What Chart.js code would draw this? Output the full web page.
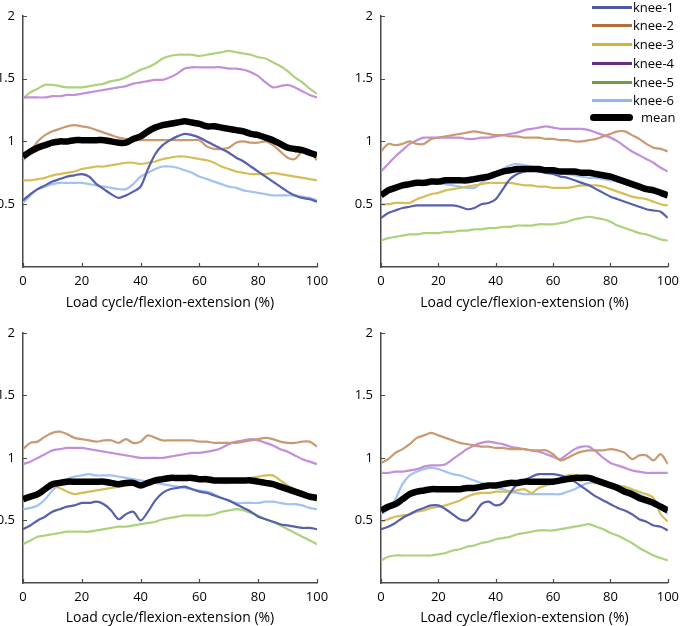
<!DOCTYPE html>
<html lang="en">
<head>
<meta charset="UTF-8">
<title>Knee curves</title>
<script src="https://cdn.jsdelivr.net/npm/chart.js"></script>
<style>
  body { margin: 0; background: #fff; width: 685px; height: 626px; position: relative; overflow: hidden; font-family: "Open Sans", sans-serif; }
  canvas { position: absolute; }
  #legenda { position: absolute; left: 592px; top: 0; font-size: 13px; color: #000; }
  .linha { position: absolute; left: 0; height: 18px; display: flex; align-items: center; white-space: nowrap; }
  .traco { display: inline-block; width: 40px; height: 3px; margin-right: 1px; }
</style>
</head>
<body>

<canvas id="tl" width="340" height="311" style="left:0;top:0"></canvas>
<canvas id="tr" width="340" height="311" style="left:345px;top:0"></canvas>
<canvas id="bl" width="340" height="309" style="left:0;top:317px"></canvas>
<canvas id="br" width="340" height="309" style="left:345px;top:317px"></canvas>
<div id="legenda"></div>

<script>
// load cycle positions (%)
const pct = [0, 2.5, 5, 7.5, 10, 12.5, 15, 17.5, 20, 22.5, 25, 27.5, 30, 32.5, 35, 37.5, 40, 42.5, 45, 47.5, 50,
    52.5, 55, 57.5, 60, 62.5, 65, 67.5, 70, 72.5, 75, 77.5, 80, 82.5, 85, 87.5, 90, 92.5, 95, 97.5, 100];

const nomes = ["knee-1", "knee-2", "knee-3", "knee-4", "knee-5", "knee-6", "mean"];
const coresLinha = ["#5660ad", "#c99a72", "#d6bd58", "#c28fd9", "#abd27c", "#a2c2ef", "#000000"];
const coresLegenda = ["#4e5aa8", "#b3703c", "#d4b334", "#6a2d84", "#6e9d3f", "#93b4ec", "#000000"];
const xTicks = [0, 20, 40, 60, 80, 100];
const yTicks = [0.5, 1, 1.5, 2];

// top left
const tlKnee1 = [0.53,0.58,0.62,0.65,0.68,0.70,0.72,0.73,0.74,0.72,0.66,0.62,0.58,0.55,0.57,0.60,0.64,0.78,0.90,0.97,1.01,1.04,1.06,1.05,1.03,1.00,0.97,0.94,0.91,0.87,0.84,0.80,0.76,0.72,0.68,0.64,0.60,0.57,0.55,0.54,0.52];
const tlKnee2 = [0.85,0.92,1.00,1.05,1.08,1.10,1.12,1.13,1.12,1.11,1.09,1.07,1.05,1.03,1.02,1.01,1.01,1.01,1.01,1.01,1.01,1.01,1.01,1.01,1.01,0.96,0.94,0.94,0.95,0.99,1.00,0.99,0.99,1.00,0.97,0.92,0.87,0.86,0.92,0.92,0.85];
const tlKnee3 = [0.69,0.69,0.70,0.71,0.73,0.74,0.75,0.76,0.78,0.79,0.80,0.80,0.81,0.82,0.83,0.83,0.82,0.83,0.84,0.86,0.87,0.88,0.88,0.87,0.86,0.85,0.83,0.80,0.78,0.76,0.75,0.74,0.74,0.74,0.75,0.74,0.73,0.72,0.71,0.70,0.69];
const tlKnee4 = [1.35,1.35,1.35,1.35,1.36,1.36,1.37,1.37,1.38,1.39,1.40,1.41,1.42,1.43,1.44,1.46,1.47,1.48,1.49,1.49,1.51,1.54,1.58,1.59,1.59,1.59,1.59,1.59,1.58,1.58,1.57,1.55,1.52,1.47,1.43,1.44,1.45,1.43,1.40,1.37,1.35];
const tlKnee5 = [1.34,1.39,1.42,1.45,1.45,1.44,1.43,1.43,1.43,1.44,1.45,1.46,1.48,1.49,1.51,1.54,1.57,1.59,1.62,1.66,1.68,1.69,1.69,1.69,1.68,1.69,1.70,1.71,1.72,1.71,1.70,1.69,1.67,1.66,1.63,1.60,1.56,1.51,1.47,1.42,1.38];
const tlKnee6 = [0.51,0.57,0.62,0.64,0.66,0.67,0.67,0.67,0.67,0.66,0.65,0.64,0.63,0.62,0.62,0.66,0.72,0.75,0.78,0.80,0.80,0.79,0.77,0.75,0.72,0.70,0.68,0.66,0.64,0.63,0.61,0.60,0.59,0.58,0.57,0.57,0.57,0.57,0.56,0.55,0.53];
const tlMean  = [0.88,0.92,0.95,0.97,0.99,1.00,1.00,1.01,1.01,1.01,1.01,1.01,1.00,0.99,0.99,1.02,1.04,1.08,1.11,1.13,1.14,1.15,1.16,1.15,1.14,1.12,1.12,1.11,1.10,1.09,1.08,1.06,1.05,1.03,1.01,0.98,0.95,0.94,0.93,0.91,0.89];

// top right
const trKnee1 = [0.39,0.43,0.45,0.47,0.48,0.49,0.49,0.49,0.49,0.49,0.49,0.48,0.46,0.47,0.50,0.51,0.54,0.62,0.70,0.74,0.76,0.77,0.76,0.75,0.74,0.72,0.71,0.69,0.67,0.65,0.62,0.59,0.56,0.54,0.52,0.50,0.48,0.46,0.45,0.44,0.39];
const trKnee2 = [0.92,0.98,0.97,0.98,1.00,0.98,0.98,1.02,1.03,1.04,1.05,1.06,1.07,1.08,1.07,1.06,1.05,1.05,1.04,1.04,1.03,1.03,1.03,1.02,1.02,1.01,1.01,1.00,1.00,1.01,1.02,1.04,1.06,1.08,1.08,1.05,1.02,0.98,0.95,0.94,0.92];
const trKnee3 = [0.50,0.50,0.51,0.51,0.51,0.54,0.56,0.58,0.59,0.61,0.62,0.63,0.64,0.65,0.66,0.67,0.67,0.67,0.67,0.66,0.65,0.65,0.64,0.64,0.63,0.63,0.63,0.64,0.65,0.65,0.65,0.64,0.62,0.60,0.58,0.56,0.55,0.54,0.52,0.50,0.49];
const trKnee4 = [0.76,0.82,0.88,0.93,0.98,1.01,1.03,1.03,1.03,1.03,1.03,1.03,1.02,1.02,1.03,1.03,1.04,1.05,1.06,1.07,1.09,1.10,1.11,1.12,1.11,1.10,1.10,1.10,1.10,1.09,1.07,1.05,1.03,1.00,0.96,0.92,0.89,0.86,0.83,0.79,0.76];
const trKnee5 = [0.21,0.23,0.24,0.25,0.26,0.26,0.27,0.27,0.27,0.28,0.28,0.29,0.29,0.30,0.30,0.31,0.31,0.32,0.32,0.33,0.33,0.33,0.34,0.34,0.34,0.35,0.36,0.38,0.39,0.40,0.39,0.38,0.36,0.33,0.31,0.29,0.27,0.26,0.24,0.22,0.21];
const trKnee6 = [0.59,0.62,0.64,0.66,0.67,0.68,0.68,0.68,0.67,0.66,0.65,0.64,0.63,0.63,0.67,0.71,0.75,0.78,0.81,0.82,0.81,0.80,0.79,0.77,0.76,0.75,0.74,0.73,0.72,0.71,0.71,0.70,0.69,0.68,0.67,0.66,0.65,0.64,0.63,0.61,0.59];
const trMean  = [0.57,0.61,0.63,0.65,0.66,0.67,0.67,0.68,0.68,0.69,0.69,0.69,0.69,0.70,0.71,0.72,0.74,0.76,0.77,0.78,0.78,0.78,0.78,0.77,0.77,0.76,0.76,0.76,0.75,0.75,0.74,0.73,0.72,0.70,0.68,0.66,0.64,0.62,0.61,0.59,0.57];

// bottom left
const blKnee1 = [0.43,0.46,0.50,0.53,0.57,0.59,0.61,0.62,0.64,0.64,0.65,0.63,0.58,0.51,0.55,0.57,0.50,0.57,0.66,0.72,0.75,0.76,0.77,0.75,0.73,0.72,0.70,0.68,0.66,0.63,0.60,0.57,0.53,0.51,0.49,0.47,0.46,0.45,0.44,0.44,0.43];
const blKnee2 = [1.07,1.12,1.13,1.17,1.20,1.21,1.19,1.16,1.15,1.14,1.13,1.14,1.14,1.12,1.15,1.12,1.13,1.18,1.16,1.14,1.14,1.14,1.14,1.14,1.13,1.13,1.12,1.12,1.12,1.12,1.13,1.14,1.15,1.16,1.15,1.13,1.12,1.12,1.13,1.13,1.09];
const blKnee3 = [0.66,0.68,0.70,0.74,0.77,0.76,0.73,0.71,0.72,0.73,0.74,0.75,0.76,0.77,0.78,0.79,0.80,0.81,0.82,0.83,0.83,0.83,0.83,0.83,0.82,0.81,0.81,0.80,0.80,0.81,0.82,0.84,0.85,0.86,0.86,0.82,0.78,0.75,0.72,0.69,0.66];
const blKnee4 = [0.95,0.97,1.00,1.03,1.06,1.07,1.08,1.08,1.08,1.07,1.06,1.05,1.04,1.03,1.02,1.01,1.00,1.00,1.00,1.00,1.01,1.02,1.03,1.04,1.04,1.05,1.06,1.08,1.11,1.13,1.14,1.15,1.14,1.12,1.10,1.07,1.05,1.02,0.99,0.97,0.95];
const blKnee5 = [0.31,0.34,0.37,0.38,0.39,0.40,0.41,0.41,0.41,0.41,0.42,0.43,0.44,0.45,0.45,0.46,0.47,0.48,0.49,0.51,0.52,0.53,0.54,0.54,0.54,0.54,0.55,0.57,0.58,0.59,0.58,0.56,0.54,0.51,0.49,0.46,0.43,0.40,0.37,0.34,0.31];
const blKnee6 = [0.59,0.60,0.62,0.67,0.74,0.79,0.83,0.85,0.86,0.87,0.86,0.86,0.86,0.85,0.84,0.83,0.82,0.81,0.80,0.79,0.78,0.77,0.76,0.75,0.74,0.73,0.71,0.68,0.66,0.64,0.64,0.64,0.64,0.65,0.65,0.64,0.63,0.63,0.62,0.60,0.59];
const blMean  = [0.67,0.69,0.71,0.75,0.79,0.80,0.81,0.81,0.81,0.81,0.81,0.81,0.80,0.79,0.80,0.80,0.78,0.80,0.82,0.83,0.84,0.84,0.84,0.84,0.83,0.83,0.82,0.82,0.82,0.82,0.82,0.82,0.81,0.80,0.79,0.77,0.75,0.73,0.71,0.69,0.68];

// bottom right
const brKnee1 = [0.43,0.45,0.48,0.52,0.55,0.58,0.60,0.62,0.62,0.59,0.55,0.51,0.50,0.55,0.63,0.65,0.62,0.64,0.72,0.79,0.82,0.85,0.87,0.87,0.87,0.86,0.84,0.81,0.77,0.73,0.69,0.66,0.63,0.60,0.58,0.55,0.51,0.49,0.46,0.45,0.42];
const brKnee2 = [0.96,0.99,1.04,1.07,1.11,1.16,1.18,1.20,1.18,1.16,1.14,1.12,1.11,1.10,1.09,1.09,1.08,1.08,1.07,1.07,1.07,1.06,1.06,1.06,1.03,0.98,1.00,1.03,1.05,1.06,1.06,1.06,1.07,1.06,1.04,0.99,1.02,1.02,0.98,1.03,0.95];
const brKnee3 = [0.49,0.51,0.53,0.54,0.55,0.57,0.58,0.60,0.61,0.62,0.64,0.66,0.69,0.71,0.72,0.72,0.73,0.73,0.73,0.74,0.75,0.72,0.76,0.78,0.80,0.83,0.86,0.86,0.86,0.84,0.82,0.80,0.79,0.78,0.77,0.75,0.73,0.71,0.68,0.55,0.49];
const brKnee4 = [0.88,0.88,0.89,0.89,0.90,0.91,0.93,0.94,0.94,0.95,0.99,1.03,1.07,1.10,1.12,1.13,1.12,1.11,1.09,1.08,1.07,1.06,1.05,1.03,1.01,0.99,1.03,1.07,1.09,1.09,1.05,1.00,0.96,0.94,0.92,0.90,0.89,0.88,0.88,0.88,0.88];
const brKnee5 = [0.18,0.21,0.22,0.22,0.22,0.22,0.22,0.22,0.23,0.24,0.26,0.27,0.29,0.30,0.32,0.33,0.35,0.36,0.37,0.39,0.40,0.41,0.42,0.42,0.42,0.43,0.44,0.45,0.46,0.47,0.45,0.43,0.40,0.38,0.35,0.32,0.28,0.25,0.22,0.20,0.18];
const brKnee6 = [0.55,0.59,0.67,0.79,0.86,0.89,0.91,0.92,0.91,0.89,0.87,0.86,0.84,0.82,0.80,0.78,0.76,0.75,0.73,0.72,0.71,0.71,0.71,0.71,0.71,0.71,0.73,0.75,0.78,0.80,0.80,0.79,0.78,0.77,0.76,0.74,0.71,0.68,0.64,0.60,0.55];
const brMean  = [0.58,0.61,0.63,0.67,0.71,0.73,0.74,0.75,0.75,0.75,0.75,0.75,0.76,0.76,0.77,0.78,0.78,0.79,0.80,0.80,0.81,0.81,0.81,0.81,0.81,0.82,0.83,0.84,0.84,0.84,0.82,0.80,0.78,0.76,0.73,0.71,0.68,0.66,0.64,0.61,0.58];

const corEixo = "#4a4a4a";
const fonte = "'Open Sans', sans-serif";

// little tick marks pointing into the plot, like the original
const marcasInternas = {
    id: 'marcasInternas',
    afterDraw(chart) {
        const ctx = chart.ctx;
        const sx = chart.scales.x;
        const sy = chart.scales.y;
        ctx.save();
        ctx.strokeStyle = corEixo;
        ctx.lineWidth = 1.2;
        ctx.beginPath();
        sx.ticks.forEach(t => {
            const px = Math.round(sx.getPixelForValue(t.value)) + 0.5;
            ctx.moveTo(px, sy.bottom);
            ctx.lineTo(px, sy.bottom - 4);
        });
        sy.ticks.forEach(t => {
            const py = Math.round(sy.getPixelForValue(t.value)) + 0.5;
            ctx.moveTo(sx.left, py);
            ctx.lineTo(sx.left + 4, py);
        });
        ctx.stroke();
        ctx.restore();
    }
};

function montarPainel(id, series, larguraY, padDireita, alturaX) {
    const datasets = series.map((valores, i) => ({
        label: nomes[i],
        data: pct.map((x, k) => ({ x: x, y: valores[k] })),
        borderColor: coresLinha[i],
        borderWidth: i === 6 ? 6.5 : 2.2,
        pointRadius: 0,
        tension: 0.3,
        fill: false,
        order: i === 6 ? 0 : 1
    }));

    return new Chart(document.getElementById(id), {
        type: 'line',
        data: { datasets: datasets },
        options: {
            responsive: false,
            animation: false,
            events: [],
            layout: { padding: { top: 7, right: padDireita, left: 0, bottom: 0 } },
            plugins: {
                legend: { display: false },
                tooltip: { enabled: false }
            },
            scales: {
                x: {
                    type: 'linear',
                    min: 0,
                    max: 100,
                    afterBuildTicks: s => { s.ticks = xTicks.map(v => ({ value: v })); },
                    afterFit: s => { s.height = alturaX; },
                    grid: { display: false, drawTicks: false },
                    border: { color: corEixo, width: 1.5 },
                    ticks: { color: '#000', font: { family: fonte, size: 13 }, padding: 6, maxRotation: 0 },
                    title: {
                        display: true,
                        text: 'Load cycle/flexion-extension (%)',
                        color: '#000',
                        font: { family: fonte, size: 14 },
                        padding: { top: 0, bottom: 0 }
                    }
                },
                y: {
                    min: 0,
                    max: 2,
                    afterBuildTicks: s => { s.ticks = yTicks.map(v => ({ value: v })); },
                    afterFit: s => { s.width = larguraY; },
                    grid: { display: false, drawTicks: false },
                    border: { color: corEixo, width: 1.5 },
                    ticks: {
                        color: '#000',
                        font: { family: fonte, size: 13 },
                        padding: 8,
                        callback: v => String(v)
                    }
                }
            }
        },
        plugins: [marcasInternas]
    });
}

montarPainel('tl', [tlKnee1, tlKnee2, tlKnee3, tlKnee4, tlKnee5, tlKnee6, tlMean], 23, 23, 44);
montarPainel('tr', [trKnee1, trKnee2, trKnee3, trKnee4, trKnee5, trKnee6, trMean], 36, 11, 44);
montarPainel('bl', [blKnee1, blKnee2, blKnee3, blKnee4, blKnee5, blKnee6, blMean], 23, 23, 43);
montarPainel('br', [brKnee1, brKnee2, brKnee3, brKnee4, brKnee5, brKnee6, brMean], 36, 11, 43);

// legend for the top right panel
const legenda = document.getElementById("legenda");
const topos = [-2, 16, 35, 54, 73, 91, 108];
nomes.forEach((nome, i) => {
    const linha = document.createElement("div");
    linha.className = "linha";
    linha.style.top = topos[i] + "px";
    const traco = document.createElement("span");
    traco.className = "traco";
    traco.style.background = coresLegenda[i];
    if (i === 6) {
        traco.style.height = "7px";
        traco.style.borderRadius = "4px";
        traco.style.marginLeft = "-2px";
        traco.style.width = "43px";
        traco.style.marginRight = "8px";
    }
    const texto = document.createElement("span");
    texto.textContent = nome;
    linha.appendChild(traco);
    linha.appendChild(texto);
    legenda.appendChild(linha);
});
</script>
</body>
</html>
